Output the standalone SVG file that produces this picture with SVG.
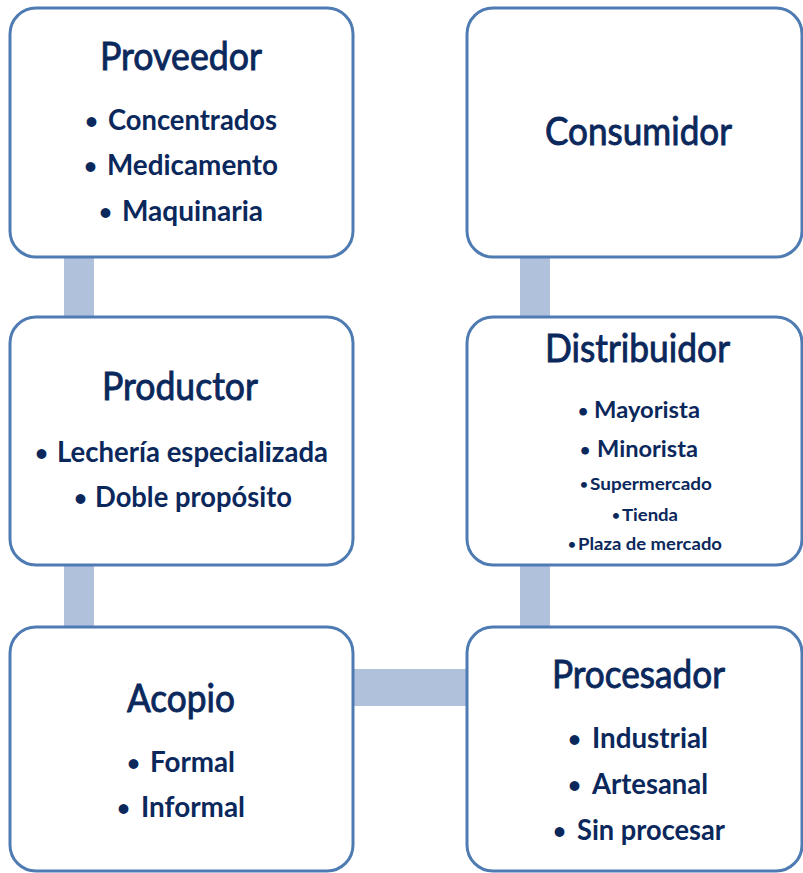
<svg xmlns="http://www.w3.org/2000/svg" width="803" height="873" viewBox="0 0 803 873">
<style>
.box{fill:#fff;stroke:#4f7bb3;stroke-width:3}
.con{fill:#b0c1dc}
text{font-family:Lato,"Liberation Sans",sans-serif;fill:#0b285c}
.t{font-size:38px;font-weight:400;stroke:#0b285c;stroke-width:0.9}
.i{font-size:28px;font-weight:700}
.m{font-size:22px;font-weight:700}
.s{font-size:17px;font-weight:700}
.b{font-size:0.8em}
</style>
<rect width="803" height="873" fill="#fff"/>
<g id="connectors">
<rect class="con" x="64" y="255" width="30" height="64"/>
<rect class="con" x="64" y="563" width="30" height="66"/>
<rect class="con" x="520" y="255" width="30" height="64"/>
<rect class="con" x="520" y="563" width="30" height="66"/>
<rect class="con" x="352" y="669" width="117" height="37"/>
</g>
<g id="proveedor">
<rect class="box" x="10" y="8" width="343" height="249" rx="26"/>
<text class="t" x="100" y="70" textLength="162" lengthAdjust="spacingAndGlyphs">Proveedor</text>
<text class="i"><tspan class="b" x="85" y="129">•</tspan><tspan x="108" y="130" textLength="169" lengthAdjust="spacingAndGlyphs">Concentrados</tspan></text>
<text class="i"><tspan class="b" x="84" y="174">•</tspan><tspan x="107" y="175" textLength="171" lengthAdjust="spacingAndGlyphs">Medicamento</tspan></text>
<text class="i"><tspan class="b" x="99" y="220">•</tspan><tspan x="122" y="221" textLength="141" lengthAdjust="spacingAndGlyphs">Maquinaria</tspan></text>
</g>
<g id="consumidor">
<rect class="box" x="467" y="8" width="335" height="249" rx="26"/>
<text class="t" x="545" y="145" textLength="187" lengthAdjust="spacingAndGlyphs">Consumidor</text>
</g>
<g id="productor">
<rect class="box" x="10" y="317" width="343" height="248" rx="26"/>
<text class="t" x="102" y="400" textLength="156" lengthAdjust="spacingAndGlyphs">Productor</text>
<text class="i"><tspan class="b" x="35" y="461">•</tspan><tspan x="57" y="462" textLength="271" lengthAdjust="spacingAndGlyphs">Lechería especializada</tspan></text>
<text class="i"><tspan class="b" x="74" y="506">•</tspan><tspan x="95" y="507" textLength="197" lengthAdjust="spacingAndGlyphs">Doble propósito</tspan></text>
</g>
<g id="distribuidor">
<rect class="box" x="467" y="317" width="335" height="248" rx="26"/>
<text class="t" x="545" y="362" textLength="185" lengthAdjust="spacingAndGlyphs">Distribuidor</text>
<text class="m"><tspan class="b" x="578" y="417">•</tspan><tspan x="594" y="418" textLength="106" lengthAdjust="spacingAndGlyphs">Mayorista</tspan></text>
<text class="m"><tspan class="b" x="580" y="456">•</tspan><tspan x="597" y="457" textLength="101" lengthAdjust="spacingAndGlyphs">Minorista</tspan></text>
<text class="s"><tspan class="b" x="580" y="489">•</tspan><tspan x="590" y="490" textLength="122" lengthAdjust="spacingAndGlyphs">Supermercado</tspan></text>
<text class="s"><tspan class="b" x="612" y="520">•</tspan><tspan x="622" y="521" textLength="56" lengthAdjust="spacingAndGlyphs">Tienda</tspan></text>
<text class="s"><tspan class="b" x="568" y="549">•</tspan><tspan x="578" y="550" textLength="144" lengthAdjust="spacingAndGlyphs">Plaza de mercado</tspan></text>
</g>
<g id="acopio">
<rect class="box" x="10" y="627" width="343" height="244" rx="26"/>
<text class="t" x="127" y="712" textLength="108" lengthAdjust="spacingAndGlyphs">Acopio</text>
<text class="i"><tspan class="b" x="127" y="771">•</tspan><tspan x="150" y="772" textLength="85" lengthAdjust="spacingAndGlyphs">Formal</tspan></text>
<text class="i"><tspan class="b" x="117" y="816">•</tspan><tspan x="141" y="817" textLength="104" lengthAdjust="spacingAndGlyphs">Informal</tspan></text>
</g>
<g id="procesador">
<rect class="box" x="467" y="627" width="335" height="244" rx="26"/>
<text class="t" x="552" y="688" textLength="173" lengthAdjust="spacingAndGlyphs">Procesador</text>
<text class="i"><tspan class="b" x="568" y="747">•</tspan><tspan x="592" y="748" textLength="116" lengthAdjust="spacingAndGlyphs">Industrial</tspan></text>
<text class="i"><tspan class="b" x="568" y="793">•</tspan><tspan x="592" y="794" textLength="116" lengthAdjust="spacingAndGlyphs">Artesanal</tspan></text>
<text class="i"><tspan class="b" x="553" y="839">•</tspan><tspan x="577" y="840" textLength="148" lengthAdjust="spacingAndGlyphs">Sin procesar</tspan></text>
</g>
</svg>
